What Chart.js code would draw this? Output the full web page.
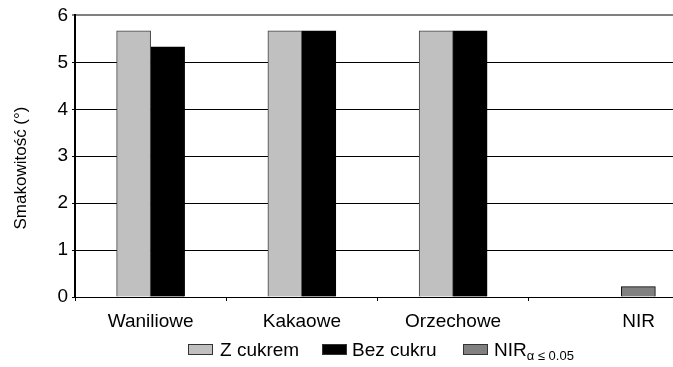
<!DOCTYPE html>
<html>
<head>
<meta charset="utf-8">
<script src="https://cdn.jsdelivr.net/npm/chart.js@4"></script>
<style>
  html, body { margin: 0; padding: 0; background: #fff; }
  #wrap { position: relative; width: 673px; height: 367px; overflow: hidden; }
  #c { position: absolute; left: 0; top: 0; }
  .key { position: absolute; font-family: "Liberation Sans", Arial, sans-serif; font-size: 19px; line-height: 19px; color: #000; white-space: nowrap; }
  .swatch { position: absolute; width: 23px; height: 9px; border: 1px solid #333; }
  sub { font-size: 13px; line-height: 0; vertical-align: -4px; }
</style>
</head>
<body>
<div id="wrap">
  <canvas id="c" width="680" height="367"></canvas>
  <span class="swatch" style="left:188px; top:344px; background:#c0c0c0;"></span>
  <span class="key" style="left:220px; top:340px;">Z cukrem</span>
  <span class="swatch" style="left:322px; top:344px; background:#000;"></span>
  <span class="key" style="left:352px; top:340px;">Bez cukru</span>
  <span class="swatch" style="left:463px; top:344px; background:#808080;"></span>
  <span class="key" style="left:494px; top:340px;">NIR<sub>α ≤ 0.05</sub></span>
</div>
<script>
// Taste scores per flavour, with and without sugar, plus the LSD bar
const categories = ['Waniliowe', 'Kakaowe', 'Orzechowe', 'NIR'];
const zCukrem   = [5.67, 5.67, 5.67, null];
const bezCukru  = [5.33, 5.67, 5.67, null];
const nirValues = [null, null, null, 0.22];
const yMin = 0, yMax = 6, yStep = 1;

const FONT = '"Liberation Sans", Arial, sans-serif';

new Chart(document.getElementById('c'), {
  type: 'bar',
  data: {
    labels: categories,
    datasets: [
      { label: 'Z cukrem', data: zCukrem, backgroundColor: '#c0c0c0', borderColor: '#404040',
        borderWidth: 1, barThickness: 34, skipNull: true },
      { label: 'Bez cukru', data: bezCukru, backgroundColor: '#000000', borderColor: '#000000',
        borderWidth: 1, barThickness: 34, skipNull: true },
      // the LSD bar keeps its third slot, so it sits right of its category centre
      { label: 'NIR', data: nirValues, backgroundColor: '#808080', borderColor: '#000000',
        borderWidth: 1, barThickness: 34, skipNull: false }
    ]
  },
  options: {
    responsive: false,
    animation: false,
    layout: { padding: { top: 15, right: 0, bottom: 0, left: 0 } },
    plugins: { legend: { display: false }, tooltip: { enabled: false } },
    scales: {
      x: {
        afterFit(scale) { scale.height = 70; },
        grid: { display: true, drawOnChartArea: false, drawTicks: true, tickLength: 4, color: '#000', offset: true },
        border: { display: true, color: '#000', width: 1 },
        ticks: {
          color: '#000', font: { family: FONT, size: 19 }, padding: 9, maxRotation: 0, autoSkip: false,
          // the NIR label is centred over its bar rather than the category centre
          callback(value, index) {
            const label = this.getLabelForValue(value);
            return index === categories.length - 1 ? '             ' + label : label;
          }
        }
      },
      y: {
        min: yMin, max: yMax,
        afterFit(scale) { scale.width = 75; },
        grid: {
          color: (ctx) => (ctx.tick && ctx.tick.value === yMax ? '#808080' : '#000'),
          lineWidth: (ctx) => (ctx.tick && ctx.tick.value === yMax ? 2 : 1),
          tickLength: 3, drawTicks: true
        },
        border: { display: true, color: '#000', width: 2 },
        ticks: { stepSize: yStep, color: '#000', font: { family: FONT, size: 19 }, padding: 4 },
        title: {
          display: true, text: 'Smakowitość (°)     ', color: '#000',
          font: { family: FONT, size: 17 }, padding: { top: 11, bottom: 0 }
        }
      }
    }
  }
});
</script>
</body>
</html>
